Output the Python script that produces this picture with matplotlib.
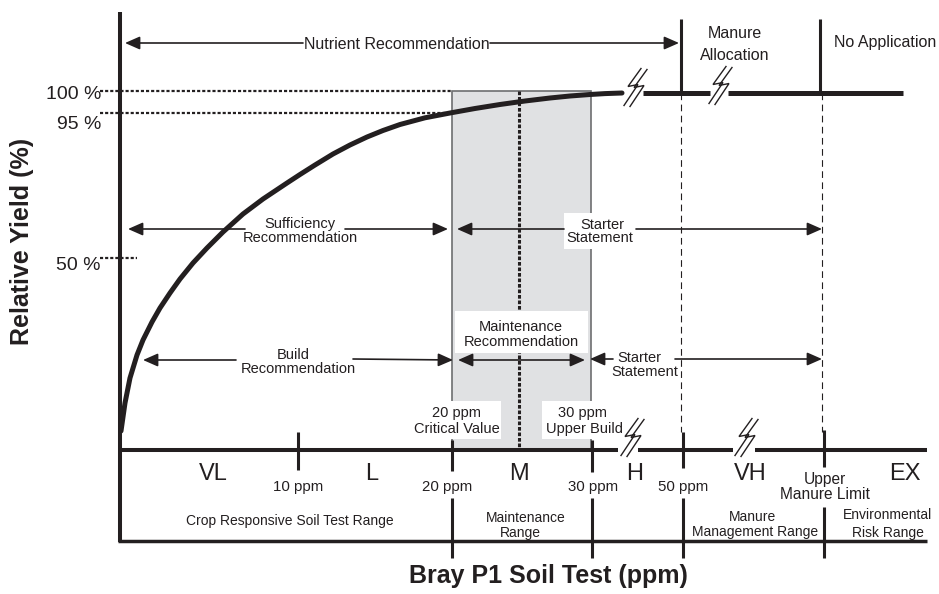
import matplotlib
matplotlib.use("Agg")
import matplotlib.pyplot as plt
from matplotlib.patches import Rectangle

plt.rcParams['font.family'] = ['Liberation Sans', 'DejaVu Sans']

INK = '#231f20'
GRAY_FILL = '#e0e1e3'
GRAY_EDGE = '#6d6e70'

# ---- data (diagram units: pixels of the reference, y downward) ----
curve_x = [121, 122, 125, 130, 137, 143, 152, 160, 170, 180, 193, 207, 223, 243,
           263, 287, 300, 315, 333, 350, 367, 383, 400, 425, 450, 475, 500, 525,
           550, 570, 590, 605, 622]
curve_y = [431, 424, 403, 378, 355, 340, 322, 308, 293, 279, 263, 248, 232, 214,
           199, 183, 174.5, 165, 154, 145, 137, 130.5, 124.5, 117.8, 113, 108.5,
           104.5, 101, 98, 96, 94.5, 93.6, 93]

yield_labels = ['100 %', '95 %', '50 %']
yield_label_y = [92, 122, 263]

class_labels = ['VL', 'L', 'M', 'H', 'VH', 'EX']
class_x = [213, 372, 519, 635, 750, 905]

ppm_labels = ['10 ppm', '20 ppm', '30 ppm', '50 ppm']
ppm_label_x = [298, 447, 593, 683]
tick_x = [298, 452, 592, 683, 824]
tick_top = [432, 440, 440, 432, 430]
tick_bot = [470, 471, 472, 468, 467]
divider_x = [452, 592, 683, 824]
divider_top = [498, 498, 498, 507]

fig = plt.figure(figsize=(9.39, 5.94), dpi=100)
ax = fig.add_axes([0, 0, 1, 1])
ax.set_xlim(0, 939)
ax.set_ylim(594, 0)
ax.axis('off')


def put(s, x, yc, size, ha='center', weight='normal', z=6):
    em = size * 100 / 72
    ax.text(x, yc + 0.36 * em, s, ha=ha, va='baseline', fontsize=size,
            color=INK, fontweight=weight, zorder=z)


def arrow(x0, y0, x1, y1, style='-|>'):
    ax.annotate('', xy=(x1, y1), xytext=(x0, y0),
                arrowprops=dict(arrowstyle=style + ',head_length=0.5,head_width=0.22',
                                lw=1.2, color=INK, mutation_scale=18,
                                shrinkA=0, shrinkB=0), zorder=5)


def brk(cx, cy):
    pts = [(9, -19), (-4, -1), (6, -3), (-8, 18)]
    for dx0, dy0 in [(-3, -0.5), (3, 0.5)]:
        xs = [cx + p[0] + dx0 for p in pts]
        ys = [cy + p[1] + dy0 for p in pts]
        ax.plot(xs, ys, color=INK, lw=1.0, zorder=7, solid_joinstyle='miter')


def wbox(x0, x1, y0, y1):
    ax.add_patch(Rectangle((x0, y0), x1 - x0, y1 - y0, facecolor='white',
                           edgecolor='none', zorder=4))


# ---- gray maintenance box ----
ax.add_patch(Rectangle((452, 91), 591 - 452, 450 - 91, facecolor=GRAY_FILL,
                       edgecolor=GRAY_EDGE, lw=1.2, zorder=1))
ax.plot([519, 519], [91, 450], color=INK, lw=2.2, dashes=(1.2, 0.6), zorder=2)

# dotted reference lines
ax.plot([100, 452], [91, 91], color=INK, lw=1.6, dashes=(1.4, 0.9), zorder=2)
ax.plot([100, 452], [113, 113], color=INK, lw=1.6, dashes=(1.4, 0.9), zorder=2)
ax.plot([100, 137], [258, 258], color=INK, lw=1.6, dashes=(1.4, 0.9), zorder=2)

# dashed verticals
for xv in [681, 822]:
    ax.plot([xv, xv], [93, 432], color=INK, lw=0.8, dashes=(6, 4), zorder=2)

# white label boxes
wbox(455, 588, 311, 353)
wbox(564, 636, 213, 249)
wbox(413, 501, 401, 439)
wbox(542, 620, 401, 439)

# ---- frame lines ----
ax.plot([120, 120], [12, 542], color=INK, lw=2.9, zorder=6, solid_capstyle='butt')
ax.plot([118, 927], [541, 541], color=INK, lw=2.5, zorder=6, solid_capstyle='butt')
for a, b in [(119, 618), (638, 733), (755, 927)]:
    ax.plot([a, b], [450, 450], color=INK, lw=2.9, zorder=6, solid_capstyle='butt')
for xv, t, b in zip(tick_x, tick_top, tick_bot):
    ax.plot([xv, xv], [t, b], color=INK, lw=2.2, zorder=6, solid_capstyle='butt')
for xv, t in zip(divider_x, divider_top):
    ax.plot([xv, xv], [t, 558], color=INK, lw=2.2, zorder=6, solid_capstyle='butt')

# top vertical separators
for xv in [681, 820]:
    ax.plot([xv, xv], [19, 93], color=INK, lw=2.2, zorder=6, solid_capstyle='butt')

# ---- yield curve and plateau ----
ax.plot(curve_x, curve_y, color=INK, lw=3.6, zorder=6, solid_capstyle='round',
        solid_joinstyle='round')
for a, b in [(643, 710), (728, 903)]:
    ax.plot([a, b], [93, 93], color=INK, lw=3.6, zorder=6, solid_capstyle='butt')

# break symbols
brk(635, 88)
brk(720, 86)
brk(632, 438)
brk(746, 438)

# ---- arrows ----
arrow(303, 43, 125, 43)
arrow(490, 43, 679, 43)
arrow(245, 229, 128, 229)
arrow(345, 229, 448, 229)
arrow(564, 229, 457, 229)
arrow(636, 229, 822, 229)
arrow(236, 360, 143, 360)
arrow(353, 359, 453, 360)
arrow(458, 360, 585, 360, style='<|-|>')
arrow(613, 359, 590, 359)
arrow(675, 359, 822, 359)

# ---- texts ----
put('Nutrient Recommendation', 397, 43, 11.5)
put('Manure', 735, 32, 11.5)
put('Allocation', 735, 54, 11.5)
put('No Application', 885, 41, 11.5)

for s, yv in zip(yield_labels, yield_label_y):
    put(s, 101, yv, 14, ha='right')

put('Sufficiency', 300, 223, 10.5)
put('Recommendation', 300, 237, 10.5)
put('Starter', 602, 224, 10.5)
put('Statement', 600, 237, 10.5)
put('Maintenance', 521, 326, 10.5)
put('Recommendation', 521, 341, 10.5)
put('Build', 293, 354, 10.5)
put('Recommendation', 298, 368, 10.5)
put('Starter', 639, 357, 10.5)
put('Statement', 645, 371, 10.5)
put('20 ppm', 457, 412, 10.5)
put('Critical Value', 457, 428, 10.5)
put('30 ppm', 583, 412, 10.5)
put('Upper Build', 584, 428, 10.5)

for s, xv in zip(class_labels, class_x):
    put(s, xv, 472, 17)
for s, xv in zip(ppm_labels, ppm_label_x):
    put(s, xv, 486, 10.8)
put('Upper', 825, 478, 11.2)
put('Manure Limit', 825, 493, 11.2)

put('Crop Responsive Soil Test Range', 290, 520, 10)
put('Maintenance', 526, 517, 10)
put('Range', 520, 532, 10)
put('Manure', 752, 516, 10)
put('Management Range', 755, 531, 10)
put('Environmental', 888, 514, 10)
put('Risk Range', 888, 532, 10)

ax.text(22, 241, 'Relative Yield (%)', rotation=90, ha='center', va='center',
        fontsize=18, fontweight='bold', color=INK)
put('Bray P1 Soil Test (ppm)', 548, 574, 18, weight='bold')

fig.savefig('out.png', dpi=100)
